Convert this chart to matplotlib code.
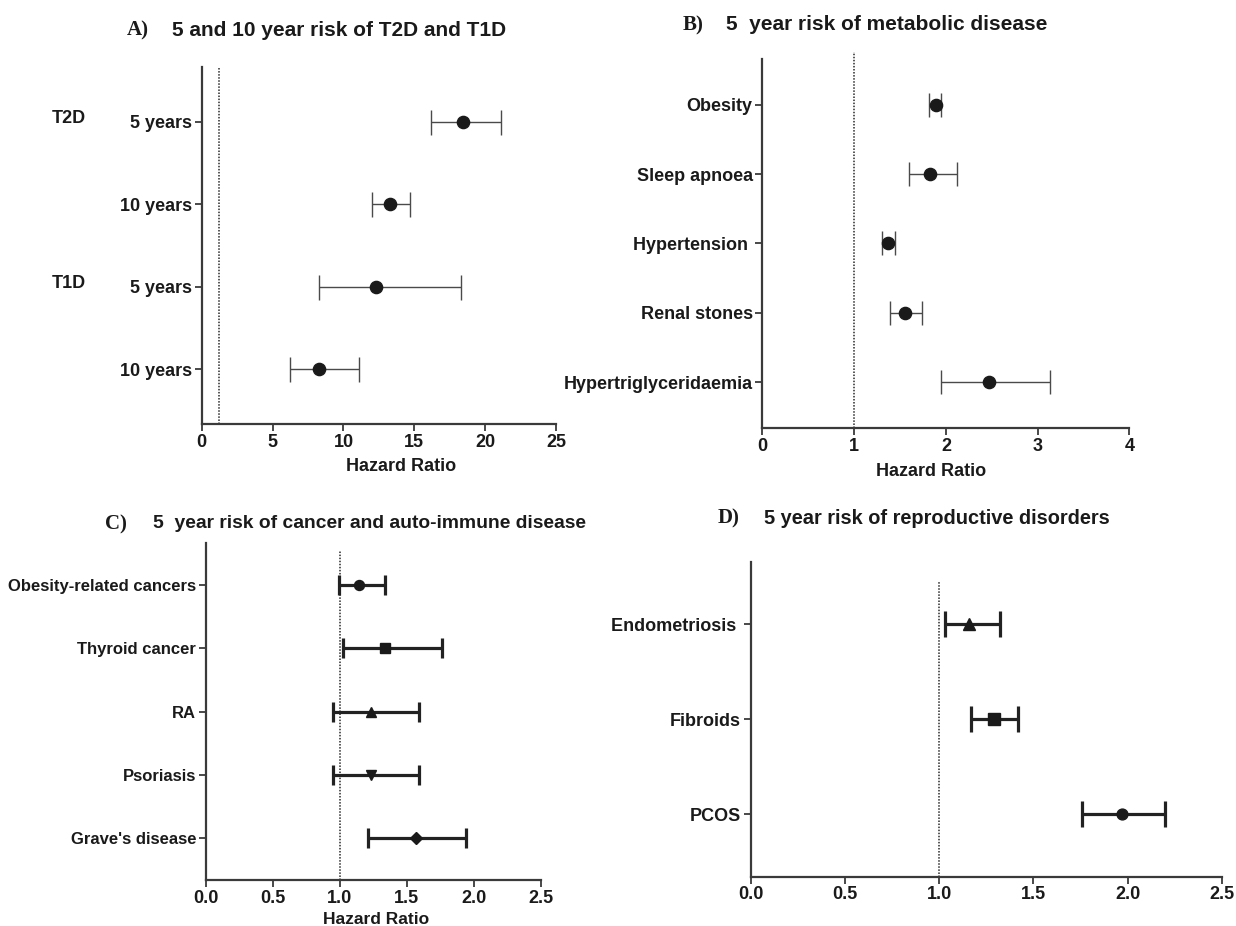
import matplotlib

matplotlib.use("Agg")
import matplotlib.pyplot as plt
import numpy as np

W, H = 1236, 926

SANS = ["Liberation Sans", "DejaVu Sans"]
SERIF = ["Liberation Serif", "DejaVu Serif"]
INK = "#1a1a1a"
AXIS = "#3a3a3a"

# A) 5 and 10 year risk of T2D and T1D
A_LABELS = ["5 years", "10 years", "5 years", "10 years"]
A_GROUPS = ["T2D", "T1D"]
A_HR = [18.4, 13.3, 12.3, 8.3]
A_LO = [16.2, 12.0, 8.3, 6.2]
A_HI = [21.1, 14.7, 18.3, 11.1]
A_REF = 1.25

# B) 5 year risk of metabolic disease
B_LABELS = ["Obesity", "Sleep apnoea", "Hypertension ", "Renal stones", "Hypertriglyceridaemia"]
B_HR = [1.89, 1.83, 1.37, 1.55, 2.47]
B_LO = [1.82, 1.60, 1.30, 1.39, 1.95]
B_HI = [1.95, 2.12, 1.45, 1.74, 3.13]

# C) 5 year risk of cancer and auto-immune disease
C_LABELS = ["Obesity-related cancers", "Thyroid cancer", "RA", "Psoriasis", "Grave's disease"]
C_HR = [1.14, 1.34, 1.23, 1.23, 1.57]
C_LO = [0.99, 1.02, 0.95, 0.95, 1.21]
C_HI = [1.34, 1.76, 1.59, 1.59, 1.94]
C_MARKERS = ["o", "s", "^", "v", "D"]

# D) 5 year risk of reproductive disorders
D_LABELS = ["Endometriosis ", "Fibroids", "PCOS"]
D_HR = [1.16, 1.29, 1.97]
D_LO = [1.03, 1.17, 1.76]
D_HI = [1.32, 1.42, 2.20]
D_MARKERS = ["^", "s", "o"]


def px(x, y):
    return x / W, 1 - y / H


def panel_title(fig, letter, lx, text, tx, y, size):
    fig.text(*px(lx, y), letter, family=SERIF, weight="bold", fontsize=15,
             ha="left", va="center", color=INK)
    fig.text(*px(tx, y), text, family=SANS, weight="bold", fontsize=size,
             ha="left", va="center", color=INK)


def forest(ax, labels, hr, lo, hi, markers, xlim, xticks, fmt, ms, ms_scale,
           elw, ecolor, capsize, ref, ref_top, ysize=13, xsize=13):
    hr, lo, hi = np.asarray(hr), np.asarray(lo), np.asarray(hi)
    ys = np.arange(1, len(hr) + 1)
    ax.axvline(ref, ymin=0, ymax=ref_top, color="#2a2a2a", linestyle=(0, (1, 1)),
               linewidth=1.1, clip_on=False, zorder=1)
    ax.errorbar(hr, ys, xerr=[hr - lo, hi - hr], fmt="none", ecolor=ecolor,
                elinewidth=elw, capsize=capsize, capthick=elw, zorder=2)
    for x, y, m, s in zip(hr, ys, markers, ms_scale):
        ax.plot(x, y, marker=m, markersize=ms * s, color=INK, linestyle="none", zorder=3)

    ax.set_xlim(*xlim)
    ax.set_ylim(len(hr) + 0.66, 0.34)
    ax.set_xticks(xticks)
    ax.set_xticklabels([fmt.format(t) for t in xticks])
    ax.set_yticks(ys)
    ax.set_yticklabels(labels)
    for side in ("top", "right"):
        ax.spines[side].set_visible(False)
    for side in ("left", "bottom"):
        ax.spines[side].set_linewidth(1.6)
        ax.spines[side].set_color(AXIS)
    ax.tick_params(axis="both", colors=AXIS, width=1.3, length=5, pad=2, labelcolor=INK)
    ax.tick_params(axis="y", labelsize=ysize)
    ax.tick_params(axis="x", labelsize=xsize)
    for lab in ax.get_xticklabels() + ax.get_yticklabels():
        lab.set_family(SANS)
        lab.set_weight("bold")


fig = plt.figure(figsize=(W / 100, H / 100), dpi=100)

ax_a = fig.add_axes([0.1632, 0.5421, 0.2867, 0.3855])
forest(ax_a, A_LABELS, A_HR, A_LO, A_HI, ["o"] * 4, (0, 25), [0, 5, 10, 15, 20, 25],
       "{:g}", 8.8, [1] * 4, 1.0, "#4a4a4a", 9, A_REF, 1.0)
ax_a.set_xlabel("Hazard Ratio", family=SANS, weight="bold", fontsize=13, color=INK)
ax_a.xaxis.set_label_coords(0.5625, -0.095)
for grp, row in zip(A_GROUPS, [1, 3]):
    ax_a.text(-0.4225, row - 0.04, grp, transform=ax_a.get_yaxis_transform(), family=SANS,
              weight="bold", fontsize=13, ha="left", va="center", color=INK)

ax_b = fig.add_axes([0.6168, 0.5378, 0.2970, 0.3985])
forest(ax_b, B_LABELS, B_HR, B_LO, B_HI, ["o"] * 5, (0, 4), [0, 1, 2, 3, 4],
       "{:g}", 8.8, [1] * 5, 1.0, "#4a4a4a", 8.5, 1.0, 1.02)
ax_b.set_xlabel("Hazard Ratio", family=SANS, weight="bold", fontsize=13, color=INK)
ax_b.xaxis.set_label_coords(0.4596, -0.095)

ax_c = fig.add_axes([0.1666, 0.0497, 0.2710, 0.3636])
forest(ax_c, C_LABELS, C_HR, C_LO, C_HI, C_MARKERS, (0, 2.5), [0, 0.5, 1, 1.5, 2, 2.5],
       "{:.1f}", 7.2, [1, 1, 1.05, 1.05, 0.8], 2.3, "#222222", 7.5, 1.0, 0.98, ysize=12)
ax_c.set_xlabel("Hazard Ratio", family=SANS, weight="bold", fontsize=12.5, color=INK)
ax_c.xaxis.set_label_coords(0.508, -0.095)

ax_d = fig.add_axes([0.6075, 0.0532, 0.3811, 0.3402])
forest(ax_d, D_LABELS, D_HR, D_LO, D_HI, D_MARKERS, (0, 2.5), [0, 0.5, 1, 1.5, 2, 2.5],
       "{:.1f}", 7.8, [1.05, 1.05, 1], 2.3, "#222222", 9.5, 1.0, 0.94)

panel_title(fig, "A)", 127, "5 and 10 year risk of T2D and T1D", 172, 30, 15)
panel_title(fig, "B)", 683, "5  year risk of metabolic disease", 726, 25, 15)
panel_title(fig, "C)", 105, "5  year risk of cancer and auto-immune disease", 153, 524, 13.9)
panel_title(fig, "D)", 718, "5 year risk of reproductive disorders", 764, 518, 14.4)

fig.savefig("out.png", dpi=100)
